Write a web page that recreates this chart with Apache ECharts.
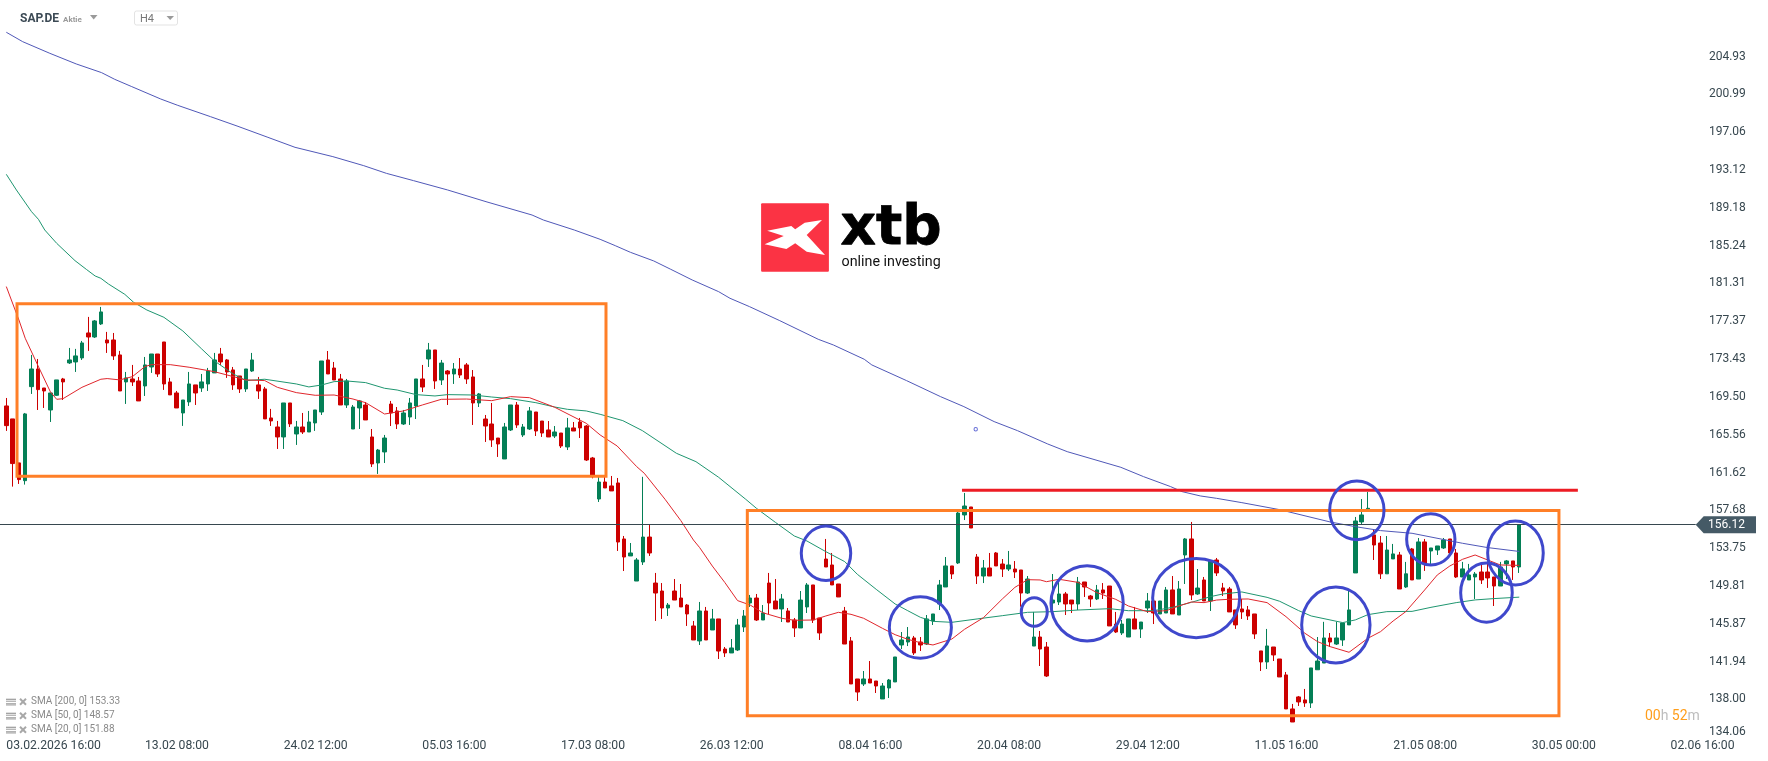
<!DOCTYPE html>
<html><head><meta charset="utf-8">
<style>html,body{margin:0;padding:0;background:#fff}#c{width:1768px;height:761px}</style>
<script src="https://cdn.jsdelivr.net/npm/echarts@6/dist/echarts.min.js"></script>
</head><body><div id="c"></div>
<script>
const tickLabels=["03.02.2026 16:00","13.02 08:00","24.02 12:00","05.03 16:00","17.03 08:00","26.03 12:00","08.04 16:00","20.04 08:00","29.04 12:00","11.05 16:00","21.05 08:00","30.05 00:00","02.06 16:00"];
const priceTicks=[134.06,138.00,141.94,145.87,149.81,153.75,157.68,161.62,165.56,169.50,173.43,177.37,181.31,185.24,189.18,193.12,197.06,200.99,204.93];
const lastPrice=156.12;
const opens=[168.48,167.13,162.55,160.70,170.49,172.33,170.35,168.06,169.59,171.29,
172.96,173.06,173.48,176.08,175.66,177.02,175.35,175.35,173.79,170.98,
171.29,171.08,170.56,172.54,173.89,175.14,170.98,169.83,167.75,168.90,
170.67,170.35,170.77,171.92,173.89,173.27,172.23,171.60,170.25,172.12,
170.67,170.25,167.23,166.29,165.25,168.79,165.56,166.29,165.77,166.71,
167.85,173.27,172.43,171.29,168.58,166.08,168.27,168.58,165.25,162.54,
163.69,168.68,167.96,166.60,167.33,168.48,171.29,173.37,174.31,171.18,
172.12,171.81,172.33,172.75,171.50,168.79,167.12,166.60,165.14,162.96,
165.98,168.58,165.46,166.08,167.85,166.91,165.98,165.35,165.66,164.21,
166.19,166.81,166.39,163.06,158.79,160.56,160.15,160.46,154.63,152.86,
150.25,152.23,154.83,150.04,149.21,147.44,149.21,148.48,147.75,145.57,
144.01,147.13,145.15,146.30,143.17,142.76,143.07,145.46,147.96,148.48,
146.19,150.04,148.17,147.34,147.13,146.19,145.36,147.55,149.84,146.40,
152.54,151.92,149.94,147.13,144.01,140.05,139.53,140.05,139.84,137.97,
139.11,139.74,143.59,143.90,144.32,143.90,143.69,146.09,147.86,149.63,
151.82,152.13,157.13,157.96,152.75,150.77,151.61,153.17,152.02,151.50,
151.50,151.40,149.00,143.48,144.42,143.38,147.96,148.07,148.90,148.27,
147.86,150.15,148.69,148.38,149.32,149.73,145.77,144.84,144.42,146.30,
145.25,147.44,148.17,146.82,146.92,149.32,146.71,152.96,154.63,148.90,
150.36,148.17,152.44,149.53,149.42,147.24,147.34,147.24,146.82,142.97,
141.82,143.38,142.13,140.47,136.93,138.18,137.87,137.55,141.01,141.71,
144.32,143.69,144.11,145.68,151.09,156.40,157.72,155.05,154.21,151.00,
152.55,152.96,149.63,153.59,150.46,154.32,153.38,153.48,153.69,154.63,
153.17,150.67,150.36,150.67,151.19,151.19,150.67,149.73,152.03,152.34,151.71];
const closes=[166.43,162.48,160.81,167.65,172.33,170.18,170.04,169.83,171.19,170.98,
173.27,173.69,175.04,175.66,177.33,178.27,175.04,173.69,170.04,171.40,
170.98,169.00,172.75,173.89,171.81,170.77,169.63,168.27,169.10,170.77,
169.83,170.98,172.12,173.27,173.06,172.02,170.67,170.25,172.33,173.27,
170.04,167.13,166.92,165.25,168.79,166.61,166.29,165.77,166.81,168.06,
173.16,171.81,171.18,168.58,171.08,168.37,169.00,167.02,162.44,163.89,
165.14,167.75,166.60,167.75,168.79,171.29,170.45,174.31,171.08,172.95,
171.81,172.33,171.70,171.29,168.79,169.73,166.39,164.94,164.52,166.29,
168.58,166.50,166.29,167.96,165.87,165.66,165.25,165.77,164.31,166.19,
165.87,166.19,162.85,161.12,160.56,159.94,159.63,154.31,152.75,153.17,
152.44,154.83,153.17,149.00,147.44,147.75,148.27,147.55,146.82,144.11,
147.13,144.11,146.30,142.96,142.76,143.28,145.67,146.61,148.48,146.19,
146.92,147.96,147.34,148.38,145.98,145.36,148.27,149.84,146.19,144.84,
151.71,149.84,148.59,143.69,139.53,138.69,140.05,139.63,139.32,139.32,
139.94,142.34,144.11,144.42,142.76,143.59,146.30,146.82,149.84,151.82,
150.98,157.33,158.06,155.77,150.77,151.61,150.77,151.82,151.50,151.92,
151.19,149.00,150.46,144.42,143.17,140.36,148.27,148.90,147.86,147.86,
150.15,149.63,148.38,149.32,149.00,145.57,144.94,145.77,146.30,145.25,
145.98,148.17,146.92,148.17,149.32,146.82,149.42,154.63,148.80,149.52,
148.17,152.33,151.09,149.21,147.03,145.68,147.03,146.61,144.74,141.82,
143.49,142.55,140.26,136.93,135.57,137.66,137.55,141.20,141.92,144.32,
143.90,144.32,145.88,147.24,156.50,157.13,157.82,154.00,151.00,153.48,
153.07,149.42,151.00,150.36,154.32,152.03,153.69,153.90,154.52,153.17,
150.67,151.51,150.88,150.98,150.36,150.57,149.73,151.71,152.34,151.71,156.12];
const highs=[169.31,167.13,162.55,167.75,173.79,173.37,170.35,169.83,171.19,171.40,
174.52,174.42,175.25,177.75,177.43,178.79,176.19,176.08,174.21,172.02,
172.75,171.50,173.58,173.89,173.89,175.14,171.40,170.04,169.10,172.02,
170.67,171.81,172.44,174.00,174.52,173.37,172.54,171.60,172.33,174.00,
171.50,170.46,168.17,166.92,168.79,168.79,166.92,167.75,167.96,168.06,
173.16,174.20,173.06,171.81,171.29,168.58,169.10,168.89,166.08,164.00,
165.46,169.00,168.37,168.06,169.31,171.29,172.75,175.04,174.31,173.27,
172.22,172.95,173.47,172.95,172.22,169.83,167.54,168.79,165.14,166.71,
168.58,168.89,166.60,168.37,167.85,166.91,166.91,166.39,165.66,167.23,
166.81,167.23,166.50,163.17,161.08,161.08,161.19,160.98,154.94,154.21,
152.65,161.10,156.08,151.09,150.04,147.96,150.46,149.94,147.86,146.09,
148.07,147.55,147.34,146.30,143.38,144.21,146.30,147.23,148.80,148.90,
147.75,151.09,150.46,148.90,147.44,146.40,149.21,150.04,149.84,146.40,
154.63,153.17,149.94,147.55,144.42,140.05,140.88,141.92,139.84,139.63,
140.05,142.34,144.94,145.46,144.53,144.42,146.71,146.82,150.36,152.75,
151.82,157.44,159.42,157.96,153.06,152.44,153.17,153.27,152.54,153.38,
152.33,151.40,150.77,147.03,145.05,143.90,150.98,150.25,149.11,148.27,
150.67,150.15,148.80,149.84,150.04,149.73,147.03,146.19,146.30,147.55,
145.98,149.00,148.17,148.17,149.63,150.77,150.25,154.73,156.40,151.50,
150.67,152.33,152.65,150.05,149.63,147.24,148.38,147.65,146.82,142.97,
145.26,143.38,142.13,140.78,137.45,138.28,139.01,141.20,144.42,146.00,
144.84,146.00,145.88,149.21,156.92,158.79,159.52,155.57,154.94,154.94,
154.11,153.28,152.24,153.69,154.73,154.63,153.69,153.90,154.73,154.63,
153.59,152.24,152.03,151.19,151.92,152.24,150.67,152.24,152.44,152.34,156.12];
const lows=[165.88,160.08,160.36,160.29,169.73,168.06,168.27,166.81,169.52,169.10,
172.85,172.02,173.27,174.21,175.56,176.91,174.00,173.27,170.04,168.69,
170.56,169.00,169.52,171.92,171.50,170.15,169.63,168.27,166.40,168.48,
168.58,169.94,170.04,171.92,172.75,171.40,170.15,169.83,169.94,172.02,
169.21,167.13,166.40,164.00,164.00,166.29,164.42,165.56,165.77,165.88,
167.54,171.81,171.18,168.58,168.27,166.08,166.08,167.02,162.12,161.40,
162.54,166.39,166.08,166.50,166.50,167.12,169.93,172.54,170.25,170.66,
168.58,170.77,171.39,170.77,166.50,168.37,164.73,164.21,163.17,162.96,
165.87,166.19,165.25,165.98,165.35,165.25,165.25,165.14,164.10,163.89,
165.87,165.14,162.75,160.94,158.48,159.94,159.63,153.38,151.29,152.86,
150.25,151.92,152.86,146.09,146.30,146.61,148.27,147.55,145.57,144.11,
143.59,144.11,145.15,142.13,142.34,142.76,142.96,144.94,147.55,146.09,
146.19,146.82,147.34,145.98,145.98,144.42,145.36,146.92,145.88,144.11,
151.71,149.84,148.59,143.69,139.53,137.76,139.32,139.63,138.59,137.97,
138.07,139.74,143.17,143.48,142.55,142.96,143.59,145.67,147.23,149.63,
150.46,152.02,156.60,155.77,149.94,150.04,150.77,151.82,150.67,151.29,
150.56,147.58,148.90,143.48,141.40,140.26,147.23,147.75,146.71,146.92,
147.23,148.59,147.55,148.27,148.38,145.57,144.84,144.63,144.42,145.25,
144.32,146.92,145.77,146.82,146.92,146.82,146.71,149.94,148.27,148.80,
148.17,147.13,150.77,148.69,147.03,145.26,146.30,146.19,144.22,140.88,
141.09,141.92,140.26,136.93,135.57,137.24,137.14,137.03,141.01,141.71,
143.38,143.59,143.49,145.68,151.09,156.19,157.72,152.44,150.46,151.00,
152.55,149.42,149.53,150.36,150.46,151.30,152.03,152.96,153.59,152.86,
150.57,150.67,150.36,148.38,149.94,149.53,147.65,149.73,150.46,150.36,151.09];
const sma20=[[0,180.91],[2,177.43],[3,175.53],[5,172.71],[7,169.94],[8,169.17],[9,169.24],[12,170.42],[15,171.26],[16,171.33],[18,171.19],[20,171.53],[22,172.58],[23,172.78],[26,172.78],[29,172.51],[33,172.05],[38,171.19],[41,171.12],[43,170.42],[46,169.87],[49,169.59],[52,169.62],[55,169.20],[57,168.82],[60,167.64],[63,167.96],[66,168.58],[69,169.17],[73,169.20],[77,169.03],[80,169.45],[83,169.34],[87,168.34],[92,166.67],[94.2,165.46],[96.9,164.31],[100,162.16],[101.2,161.47],[104.5,158.76],[107,156.54],[109,154.52],[110,153.72],[112,151.81],[114,150.08],[116,148.21],[118,147.75],[120,146.95],[123,146.37],[125,146.16],[128,146.19],[130,146.61],[132,146.99],[134,146.78],[136,146.37],[139,145.32],[141,144.66],[143,144.18],[145,143.83],[147,143.59],[150,144.21],[152,145.22],[155,146.43],[158,148.38],[160,149.59],[162,150.39],[164,150.36],[165,150.18],[167,150.43],[170,150.11],[173,149.04],[176,148.34],[178,147.65],[181,147.06],[184,147.16],[186,147.65],[188,148.07],[190,148.00],[192,148.27],[194,148.35],[197,148.38],[200,148.00],[203,146.54],[206,144.81],[208,143.94],[210,143.42],[213,142.83],[216,144.29],[218,144.98],[220,146.09],[222,147.06],[225,149.32],[227,150.88],[229,151.82],[231,152.51],[233,152.96],[235,152.44],[237,151.92],[240,151.88]];
const sma50=[[0,192.60],[1.6,190.97],[4,188.71],[5.1,187.91],[6.1,186.80],[8,185.41],[10.9,183.61],[12.7,182.70],[14.1,182.01],[15,181.77],[16.2,181.18],[18.8,180.10],[20.2,179.27],[22.3,178.47],[25,177.71],[28,176.29],[31,174.41],[33,173.17],[36,171.81],[38,171.12],[41,171.26],[46,170.77],[48,170.46],[50,170.66],[52,171.01],[54,171.08],[57,170.91],[60,170.32],[62,170.14],[65,169.66],[68,169.52],[70,169.66],[74,169.62],[77,169.41],[80,169.24],[84,168.82],[87,168.37],[89,168.13],[92,167.96],[94.2,167.61],[97.8,166.95],[100.9,165.91],[106.3,163.55],[109.4,162.68],[113,161.05],[117.3,158.76],[119,157.82],[122,156.36],[125,154.94],[127,154.42],[130,153.31],[133,152.27],[135,150.95],[138,149.38],[141,147.86],[143,147.16],[145,146.47],[147,146.05],[150,145.95],[154,146.30],[158,146.64],[162,146.99],[166,147.06],[170,147.23],[175,147.37],[178,147.16],[182,147.16],[185,147.51],[188,148.03],[191,148.62],[193,148.90],[196,149.11],[200,148.55],[202,148.14],[205,147.17],[207,146.61],[212,145.92],[214,146.20],[216,146.75],[219,147.06],[223,147.09],[226,147.51],[230,148.00],[233,148.28],[236,148.42],[240,148.57]];
const sma200=[[0,207.39],[2.6,206.41],[6.9,205.20],[11.1,204.09],[15.1,203.19],[17.2,202.49],[19.9,201.73],[24.5,200.44],[27.2,199.78],[32.4,198.60],[36.6,197.63],[41.5,196.45],[45.8,195.41],[51.8,194.44],[56.7,193.50],[60.3,192.70],[64.6,191.94],[70,190.97],[76.1,189.75],[83.4,188.36],[85.2,187.84],[90.1,186.80],[94.2,185.83],[96.6,185.17],[99,184.48],[102.7,183.58],[105.4,182.71],[108.8,181.60],[113,180.38],[114.8,179.69],[117.9,178.82],[122.7,177.36],[128.8,175.42],[131.2,174.83],[136.1,173.34],[137.3,172.75],[142.8,171.12],[148.2,169.45],[151.9,168.41],[156.7,166.85],[160.4,165.91],[165.2,164.52],[168.3,163.72],[176.8,162.09],[180.4,161.12],[184.7,160.08],[186.5,159.56],[189.4,159.11],[192,158.86],[196,158.41],[202,157.68],[210,156.40],[214,155.91],[218,155.50],[223,155.22],[231,154.18],[235,153.73],[240,153.33]];
// annotations: [bar, bar, price, price]
const boxes=[[1.70,95.13,179.13,161.16],[117.55,246.30,157.58,136.23]];
const resistance=[[151.6,159.70],[249.3,159.70]];
// circles: [centre bar, centre price, radius in bars, radius in price]
const circles=[[130.03,153.14,4.08,2.95],[145.0,145.41,5.08,3.31],[163.07,147.03,2.22,1.59],[171.45,147.93,5.89,4.02],[188.75,148.47,7.06,4.22],[210.91,145.67,5.58,4.06],[214.24,157.61,4.47,3.16],[225.97,154.59,3.99,2.77],[234.8,149.04,4.25,3.19],[239.4,153.17,4.57,3.44]];
const marker=[[153.78,166.06]];
const legendRows=["SMA [200, 0] 153.33","SMA [50, 0] 148.57","SMA [20, 0] 151.88"];

const N=269;
const categories=Array.from({length:N},(_, i)=>i%22===0?tickLabels[i/22]:'');
const candles=opens.map((o,i)=>[o,closes[i],lows[i],highs[i]]);
const textCol='#37474f';

function legendGraphics(){
  const out=[];
  legendRows.forEach((t,i)=>{
    const y=701.7+i*14;
    [-3,-1,1.5].forEach((d,k)=>out.push({type:'rect',shape:{x:6,y:y+d,width:10,height:k==1?1:1.2},style:{fill:'#9a9a9a'}}));
    out.push({type:'rect',shape:{x:6,y:y+2,width:10,height:2},style:{fill:'#bdbdbd'}});
    out.push({type:'line',shape:{x1:20,y1:y-3,x2:26,y2:y+3},style:{stroke:'#a8a8a8',lineWidth:2}});
    out.push({type:'line',shape:{x1:26,y1:y-3,x2:20,y2:y+3},style:{stroke:'#a8a8a8',lineWidth:2}});
    out.push({type:'text',x:31,y:y,style:{text:t,fill:'#8a8a8a',font:'10px Roboto',verticalAlign:'middle'}});
  });
  return out;
}
const logoX=[[767.2,230.7],[791.3,226],[795.2,229.3],[804.7,222.7],[822,220],[806.7,235],[825,255],[806.7,251.7],[795.2,243.3],[786.4,249],[764.6,244.3],[783.7,236]];
const option={
  animation:false,
  backgroundColor:'#fff',
  grid:{left:3.15,top:0,right:69.1,height:736.5,containLabel:false},
  xAxis:[{type:'category',data:categories,boundaryGap:true,axisLine:{show:false},axisTick:{show:false},splitLine:{show:false},
    axisLabel:{interval:(i)=>i%22===0,hideOverlap:false,align:'left',margin:3,color:textCol,fontFamily:'Roboto',fontSize:12.2}},
    {type:'value',min:-0.5,max:N-0.5,show:false,splitLine:{show:false}}],
  yAxis:{type:'value',position:'right',min:134.06,max:210.75,scale:true,axisLine:{show:false},axisTick:{show:false},splitLine:{show:false},
    axisLabel:{customValues:priceTicks,formatter:v=>(v===priceTicks[0]?'{b|':'{a|')+v.toFixed(2)+'}',color:textCol,fontFamily:'Roboto',fontSize:12,margin:10,
      rich:{a:{padding:[1.5,0,0,0],color:textCol,fontFamily:'Roboto',fontSize:12},b:{padding:[0,0,10,0],color:textCol,fontFamily:'Roboto',fontSize:12}}}},
  series:[
    {type:'candlestick',data:candles,barWidth:4,z:2,
      itemStyle:{color:'#047f56',color0:'#cc0000',borderColor:'#047f56',borderColor0:'#cc0000',borderWidth:1}},
    {type:'line',name:'SMA 200',data:sma200,xAxisIndex:1,showSymbol:false,symbol:'none',z:3,lineStyle:{color:'#5058b8',width:1}},
    {type:'line',name:'SMA 50',data:sma50,xAxisIndex:1,showSymbol:false,symbol:'none',z:3,lineStyle:{color:'#1f9670',width:1}},
    {type:'line',name:'SMA 20',data:sma20,xAxisIndex:1,showSymbol:false,symbol:'none',z:3,lineStyle:{color:'#e0262c',width:1}},
    {type:'custom',name:'last',xAxisIndex:1,coordinateSystem:'cartesian2d',data:[[0,lastPrice]],z:4,clip:false,encode:{x:0,y:1},
      renderItem:(p,api)=>{
        const y=api.coord([0,api.value(1)])[1];
        const x0=0,xa=1695.7,xe=1756,h=8.5;
        return {type:'group',children:[
          {type:'rect',shape:{x:x0,y:Math.floor(y),width:xa-x0,height:1},style:{fill:'#37474f'}},
          {type:'polygon',shape:{points:[[xa,y],[xa+8,y-h],[xe,y-h],[xe,y+h],[xa+8,y+h]]},style:{fill:'#455a66'}},
          {type:'text',x:1708,y:y+0.5,style:{text:api.value(1).toFixed(2),fill:'#fff',font:'12px Roboto',verticalAlign:'middle'}}
        ]};
      }},
    {type:'custom',name:'boxes',xAxisIndex:1,coordinateSystem:'cartesian2d',data:boxes,z:5,clip:false,encode:{x:[0,1],y:[2,3]},
      renderItem:(p,api)=>{
        const a=api.coord([api.value(0),api.value(2)]),b=api.coord([api.value(1),api.value(3)]);
        return {type:'rect',shape:{x:a[0],y:a[1],width:b[0]-a[0],height:b[1]-a[1]},style:{fill:'none',stroke:'#ff7f27',lineWidth:3}};
      }},
    {type:'line',name:'resistance',xAxisIndex:1,data:resistance,showSymbol:false,symbol:'none',z:5,lineStyle:{color:'#ed1c24',width:3,cap:'butt'}},
    {type:'custom',name:'circles',xAxisIndex:1,coordinateSystem:'cartesian2d',data:circles,z:6,clip:false,encode:{x:0,y:1},
      renderItem:(p,api)=>{
        const c=api.coord([api.value(0),api.value(1)]),e=api.coord([api.value(0)+api.value(2),api.value(1)+api.value(3)]);
        return {type:'ellipse',shape:{cx:c[0],cy:c[1],rx:Math.abs(e[0]-c[0])-1,ry:Math.abs(e[1]-c[1])-1},style:{fill:'none',stroke:'#3f48cc',lineWidth:3}};
      }},
    {type:'scatter',name:'marker',xAxisIndex:1,data:marker,symbol:'circle',symbolSize:3.4,z:6,itemStyle:{color:'#fff',borderColor:'#3f48cc',borderWidth:1}}
  ],
  graphic:[
    {type:'text',x:20,y:18.7,style:{text:'SAP.DE',fill:'#3c4a55',font:'bold 12px Roboto',verticalAlign:'middle'}},
    {type:'text',x:63,y:19.5,style:{text:'Aktie',fill:'#9a9a9a',font:'bold 8px Roboto',verticalAlign:'middle'}},
    {type:'polygon',shape:{points:[[90,15],[97.5,15],[93.7,19.5]]},style:{fill:'#9a9a9a'}},
    {type:'rect',shape:{x:134.5,y:11,width:43,height:14,r:2},style:{fill:'#fff',stroke:'#e3e3e3',lineWidth:1}},
    {type:'text',x:140,y:19,style:{text:'H4',fill:'#777',font:'11px Roboto',verticalAlign:'middle'}},
    {type:'polygon',shape:{points:[[166.5,16],[174,16],[170.2,20]]},style:{fill:'#9a9a9a'}},
    {type:'rect',shape:{x:761.1,y:203.3,width:67.8,height:68.4,r:1},style:{fill:'#fb3344'}},
    {type:'polygon',shape:{points:logoX},style:{fill:'#fff'}},
    {type:'text',x:840.5,y:229.5,style:{text:'xtb',fill:'#000',stroke:'#000',lineWidth:0.8,font:'bold 55px "DejaVu Sans"',verticalAlign:'middle'}},
    {type:'text',x:841.5,y:262,style:{text:'online investing',fill:'#111',font:'14.3px Roboto',verticalAlign:'middle'}},
    {type:'text',x:1645,y:716,style:{rich:{o:{fill:'#ff9e1b',font:'14px Roboto'},g:{fill:'#bdbdbd',font:'14px Roboto'}},text:'{o|00}{g|h} {o|52}{g|m}',verticalAlign:'middle'}},
    ...legendGraphics()
  ]
};
const chart=echarts.init(document.getElementById('c'));
chart.setOption(option);
</script></body></html>
